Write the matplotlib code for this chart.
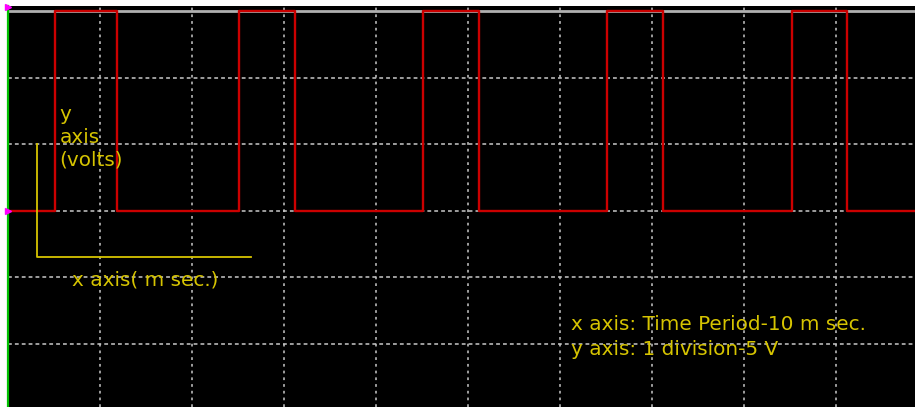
import numpy as np
import matplotlib.pyplot as plt

# square wave (time in ms, 1 div = 5 ms, 1 div = 5 V)
rise_ms = [2.55, 12.55, 22.55, 32.55, 42.6]
fall_ms = [5.9, 15.6, 25.6, 35.6, 45.6]
high_v = 15
low_v = 0
t_end = 49.3

x_note = "x axis: Time Period-10 m sec."
y_note = "y axis: 1 division-5 V"

# build the step trace from the edges
t = [0.0]
v = [low_v]
for r, f in zip(rise_ms, fall_ms):
    t += [r, r, f, f]
    v += [low_v, high_v, high_v, low_v]
t.append(t_end)
v.append(low_v)

yellow = '#d6c400'
red = '#cc0000'
grid_c = '#c8c8c8'

fig = plt.figure(figsize=(9.15, 4.07), dpi=100)
ax = fig.add_axes([8 / 915, 0, 1 - 8 / 915, 401 / 407])
ax.set_facecolor('black')
ax.set_xlim(0, t_end)
ax.set_ylim(-14.74, 15.38)

# graticule
for xg in np.arange(5, t_end, 5):
    ax.axvline(xg, color=grid_c, lw=1.1, ls=(0, (1.8, 2.6)), zorder=1)
for yg in [-10, -5, 0, 5, 10]:
    ax.axhline(yg, color=grid_c, lw=1.1, ls=(0, (2.5, 2)), zorder=1)
ax.axhline(high_v, color='#b0b0b0', lw=2, zorder=1)

ax.plot(t, v, color=red, lw=1.7, zorder=3)

ax.set_xticks([])
ax.set_yticks([])
for s in ['top', 'right', 'bottom']:
    ax.spines[s].set_visible(False)
ax.spines['left'].set_color('#00c000')
ax.spines['left'].set_linewidth(1.6)

ax.plot([0, 0], [15.3, 0], ls='none', marker='>', ms=4, color='#ff00ff',
        clip_on=False, zorder=4)

# yellow annotations
fs = 14.4
ax.plot([1.58, 1.58, 13.2], [5.0, -3.5, -3.5], color=yellow, lw=1.3, zorder=4)
ax.text(2.8, 5.5, "y\naxis\n(volts)", color=yellow, fontsize=fs,
        va='center', ha='left', linespacing=1.24, zorder=5)
ax.text(3.5, -5.2, "x axis( m sec.)", color=yellow, fontsize=fs,
        va='center', ha='left', zorder=5)
ax.text(30.6, -8.57, x_note, color=yellow, fontsize=fs,
        va='center', ha='left', zorder=5)
ax.text(30.6, -10.45, y_note, color=yellow, fontsize=fs,
        va='center', ha='left', zorder=5)

fig.savefig('out.png', dpi=100, facecolor='white')
